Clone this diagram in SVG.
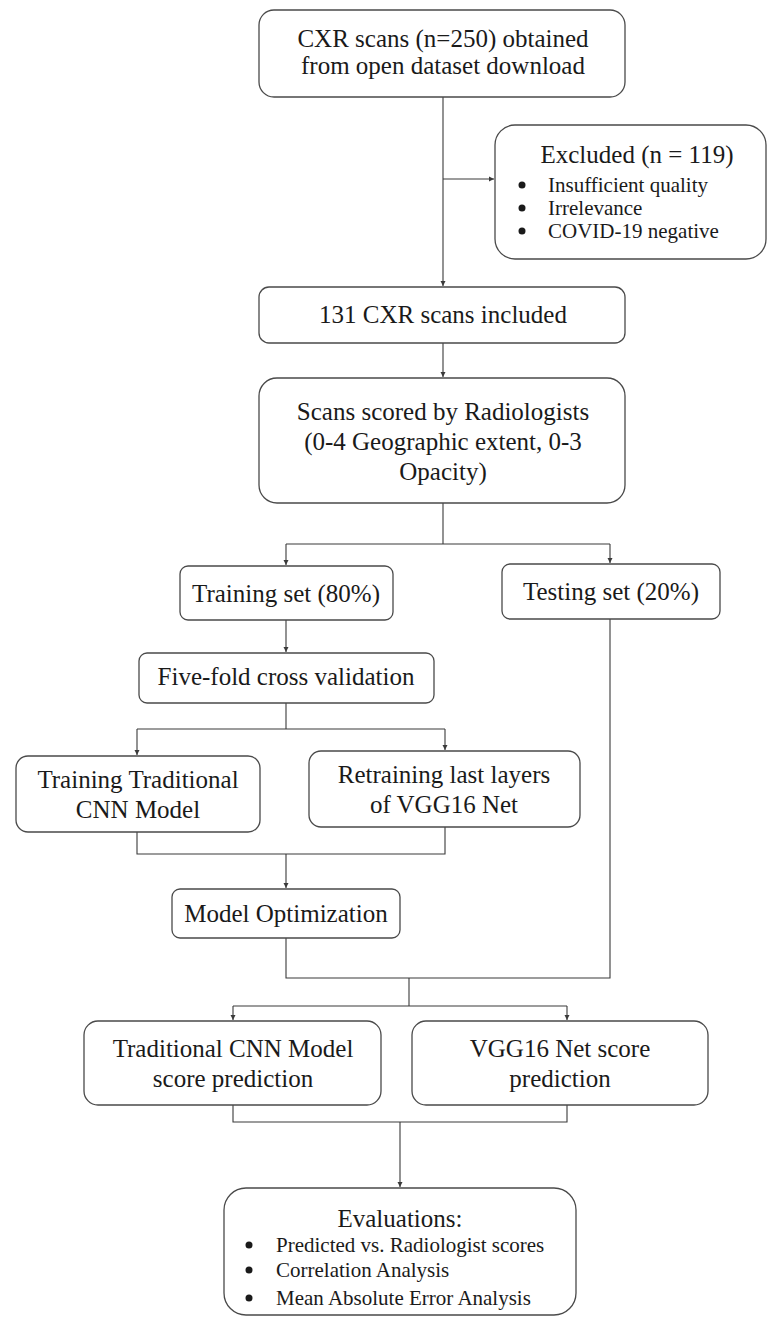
<svg xmlns="http://www.w3.org/2000/svg" width="768" height="1317" viewBox="0 0 768 1317">
<style>
.box{fill:#fff;stroke:#4a4a4a;stroke-width:1.3}
.t{font-family:"Liberation Serif","Times New Roman",serif;font-size:25px;fill:#1a1a1a;text-anchor:middle}
.b{font-family:"Liberation Serif","Times New Roman",serif;font-size:21px;fill:#1a1a1a}
.ln{fill:none;stroke:#3a3a3a;stroke-width:1.1}
.dot{fill:#1a1a1a}
</style>
<defs>
<marker id="ah" markerUnits="userSpaceOnUse" markerWidth="6" markerHeight="6" refX="5" refY="3" orient="auto">
<path d="M0,0.5 L5,3 L0,5.5 z" fill="#3a3a3a"/>
</marker>
</defs>
<rect width="768" height="1317" fill="#fff"/>
<g id="connectors">
<path class="ln" d="M443,97 V286" marker-end="url(#ah)"/>
<path class="ln" d="M443,179 H494" marker-end="url(#ah)"/>
<path class="ln" d="M443,343 V377" marker-end="url(#ah)"/>
<path class="ln" d="M443,503 V544"/>
<path class="ln" d="M286,544 H610"/>
<path class="ln" d="M286,544 V565" marker-end="url(#ah)"/>
<path class="ln" d="M610,544 V563" marker-end="url(#ah)"/>
<path class="ln" d="M286,620 V652" marker-end="url(#ah)"/>
<path class="ln" d="M286,703 V729"/>
<path class="ln" d="M137,729 H445"/>
<path class="ln" d="M137,729 V755" marker-end="url(#ah)"/>
<path class="ln" d="M445,729 V750" marker-end="url(#ah)"/>
<path class="ln" d="M137,832 V854 H445 V827"/>
<path class="ln" d="M286,854 V888" marker-end="url(#ah)"/>
<path class="ln" d="M286,938 V978 H610 V619"/>
<path class="ln" d="M409,978 V1006"/>
<path class="ln" d="M233,1006 H567"/>
<path class="ln" d="M233,1006 V1020" marker-end="url(#ah)"/>
<path class="ln" d="M567,1006 V1020" marker-end="url(#ah)"/>
<path class="ln" d="M233,1105 V1122 H567 V1105"/>
<path class="ln" d="M400,1122 V1187" marker-end="url(#ah)"/>
</g>
<g id="n1">
<rect class="box" x="259" y="10" width="366" height="87" rx="15"/>
<text class="t" x="443" y="47">CXR scans (n=250) obtained</text>
<text class="t" x="443" y="74">from open dataset download</text>
</g>
<g id="n2">
<rect class="box" x="495" y="125" width="271" height="134" rx="20"/>
<text class="t" x="637" y="163">Excluded (n = 119)</text>
<circle class="dot" cx="522" cy="185" r="3.5"/>
<circle class="dot" cx="522" cy="208" r="3.5"/>
<circle class="dot" cx="522" cy="231" r="3.5"/>
<text class="b" x="548" y="192">Insufficient quality</text>
<text class="b" x="548" y="215">Irrelevance</text>
<text class="b" x="548" y="238">COVID-19 negative</text>
</g>
<g id="n3">
<rect class="box" x="259" y="287" width="366" height="56" rx="10"/>
<text class="t" x="443" y="323">131 CXR scans included</text>
</g>
<g id="n4">
<rect class="box" x="259" y="378" width="366" height="125" rx="18"/>
<text class="t" x="443" y="420">Scans scored by Radiologists</text>
<text class="t" x="443" y="450">(0-4 Geographic extent, 0-3</text>
<text class="t" x="443" y="480">Opacity)</text>
</g>
<g id="n5">
<rect class="box" x="180" y="566" width="213" height="54" rx="8"/>
<text class="t" x="286" y="602">Training set (80%)</text>
</g>
<g id="n6">
<rect class="box" x="502" y="564" width="218" height="55" rx="8"/>
<text class="t" x="611" y="600">Testing set (20%)</text>
</g>
<g id="n7">
<rect class="box" x="139" y="653" width="295" height="50" rx="8"/>
<text class="t" x="286" y="685">Five-fold cross validation</text>
</g>
<g id="n8">
<rect class="box" x="16" y="756" width="244" height="76" rx="12"/>
<text class="t" x="138" y="788">Training Traditional</text>
<text class="t" x="138" y="818">CNN Model</text>
</g>
<g id="n9">
<rect class="box" x="309" y="751" width="271" height="76" rx="12"/>
<text class="t" x="444" y="783">Retraining last layers</text>
<text class="t" x="444" y="813">of VGG16 Net</text>
</g>
<g id="n10">
<rect class="box" x="172" y="889" width="228" height="49" rx="8"/>
<text class="t" x="286" y="922">Model Optimization</text>
</g>
<g id="n11">
<rect class="box" x="84" y="1021" width="297" height="84" rx="14"/>
<text class="t" x="233" y="1057">Traditional CNN Model</text>
<text class="t" x="233" y="1087">score prediction</text>
</g>
<g id="n12">
<rect class="box" x="412" y="1021" width="296" height="84" rx="14"/>
<text class="t" x="560" y="1057">VGG16 Net score</text>
<text class="t" x="560" y="1087">prediction</text>
</g>
<g id="n13">
<rect class="box" x="224" y="1188" width="352" height="127" rx="22"/>
<text class="t" x="400" y="1227">Evaluations:</text>
<circle class="dot" cx="249" cy="1245" r="3.5"/>
<circle class="dot" cx="249" cy="1270" r="3.5"/>
<circle class="dot" cx="249" cy="1298" r="3.5"/>
<text class="b" x="276" y="1252">Predicted vs. Radiologist scores</text>
<text class="b" x="276" y="1277">Correlation Analysis</text>
<text class="b" x="276" y="1305">Mean Absolute Error Analysis</text>
</g>
</svg>
